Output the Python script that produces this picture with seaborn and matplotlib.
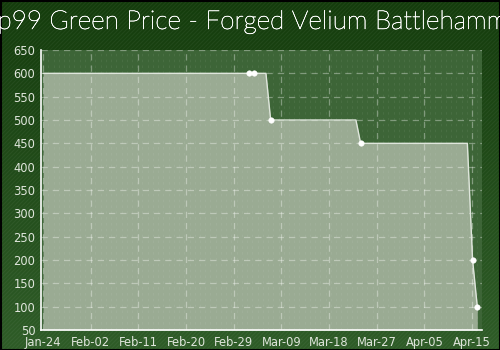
import numpy as np
import pandas as pd
import matplotlib
matplotlib.use("Agg")
import matplotlib.pyplot as plt
import matplotlib.patheffects as pe
import seaborn as sns

# Data (days since Jan-24, price)
days = [0.0, 39.4, 40.4, 42.6, 43.5, 59.8, 60.7, 81.1, 82.1, 83.0]
prices = [600, 600, 600, 600, 500, 500, 450, 450, 200, 100]
marked = [False, True, True, False, True, False, True, False, True, True]
tick_labels = ["Jan-24", "Feb-02", "Feb-11", "Feb-20", "Feb-29",
               "Mar-09", "Mar-18", "Mar-27", "Apr-05", "Apr-15"]
y_ticks = list(range(50, 651, 50))
title = "p99 Green Price - Forged Velium Battlehammer"

df = pd.DataFrame({"day": days, "price": prices, "marked": marked})

sns.set_theme(style="white")
fig = plt.figure(figsize=(5, 3.5), dpi=100)

# background gradient with diagonal stripes
bg = fig.add_axes([0, 0, 1, 1], zorder=-10)
bg.set_axis_off()
top = np.array([0x14, 0x3c, 0x0c]) / 255
bot = np.array([0x2e, 0x5c, 0x27]) / 255
t = np.linspace(0, 1, 350)[:, None, None]
grad = top * (1 - t) + bot * t
grad = np.repeat(grad, 500, axis=1)
bg.imshow(grad, extent=[0, 500, 350, 0], aspect="auto")
for c in range(-350, 500, 4):
    bg.plot([c, c + 350], [350, 0], color="white", alpha=0.05, lw=0.8)
bg.set_xlim(0, 500)
bg.set_ylim(350, 0)
bg.plot([0, 499.5, 499.5, 0.5, 0.5], [0.5, 0.5, 349.5, 349.5, 0.5], color="black", lw=1.5)

bg.text(264, 22, title, ha="center", va="center", color="white",
        fontsize=18.8, fontfamily="Lato", fontweight="light",
        path_effects=[pe.withStroke(linewidth=0.35, foreground="white")])

ax = fig.add_axes([41 / 500, 1 - 330 / 350, 441 / 500, 280 / 350])
ax.set_facecolor("#3d6537")
sns.lineplot(data=df, x="day", y="price", ax=ax, color="#dfe6dc", lw=1, zorder=4)
ax.fill_between(df["day"], df["price"], 50, color="#9aab93", zorder=2, lw=0)
sns.scatterplot(data=df[df["marked"]], x="day", y="price", ax=ax, color="white",
                s=16, edgecolor="white", zorder=5)

xt = np.linspace(0, 82, 10)
ax.set_xticks(xt)
ax.set_xticklabels(tick_labels)
ax.set_yticks(y_ticks)
ax.set_xlim(-0.4, 83.9)
ax.set_ylim(50, 650)

# minor day grid
for d in range(0, 84):
    ax.axvline(d, color="white", alpha=0.07, lw=0.6, ls=(0, (3, 4)), zorder=3)
ax.grid(True, color="white", alpha=0.35, lw=0.9, ls=(0, (5, 4)), zorder=3)
ax.set_axisbelow(False)

for s in ["top", "right"]:
    ax.spines[s].set_visible(False)
for s in ["left", "bottom"]:
    ax.spines[s].set_color("white")
    ax.spines[s].set_linewidth(1.2)
ax.tick_params(axis="both", colors="#e0e6dc", labelsize=8.3, length=3, width=1,
               direction="out", pad=1)
for lbl in ax.get_xticklabels() + ax.get_yticklabels():
    lbl.set_fontfamily("DejaVu Sans")
ax.set_xlabel("")
ax.set_ylabel("")

fig.savefig("out.png", dpi=100)
